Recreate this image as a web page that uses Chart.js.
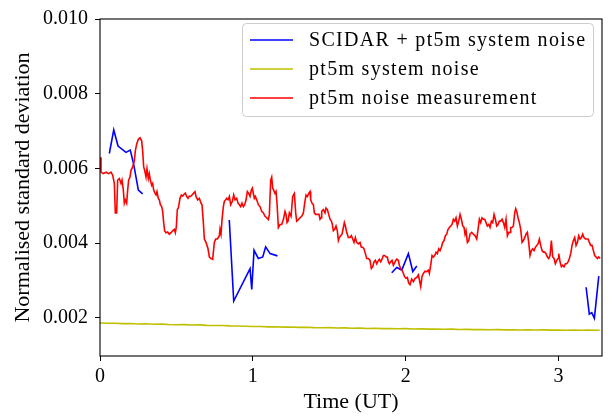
<!DOCTYPE html>
<html>
<head>
<meta charset="utf-8">
<script src="https://cdn.jsdelivr.net/npm/chart.js@4.4.0/dist/chart.umd.min.js"></script>
<style>
html, body { margin: 0; padding: 0; background: #fff; }
#wrap { width: 611px; height: 420px; }
</style>
</head>
<body>
<div id="wrap"><canvas id="noiseChart"></canvas></div>
<script>
// pt5m noise measurement (red)
const redTime = [
    0.0000,0.0065,0.0218,0.0392,0.0567,0.0720,0.0829,0.0938,0.1003,0.1091,
    0.1156,0.1265,0.1374,0.1440,0.1527,0.1592,0.1658,0.1745,0.1810,0.1876,
    0.1963,0.2029,0.2138,0.2247,0.2312,0.2399,0.2509,0.2618,0.2727,0.2792,
    0.2858,0.2923,0.3010,0.3076,0.3163,0.3228,0.3294,0.3381,0.3447,0.3512,
    0.3599,0.3665,0.3730,0.3817,0.3883,0.3948,0.4036,0.4101,0.4166,0.4232,
    0.4319,0.4428,0.4537,0.4647,0.4755,0.4864,0.4930,0.4995,0.5061,0.5126,
    0.5235,0.5323,0.5410,0.5497,0.5584,0.5672,0.5759,0.5846,0.5933,0.6021,
    0.6130,0.6217,0.6283,0.6392,0.6501,0.6610,0.6675,0.6763,0.6828,0.6937,
    0.6981,0.7069,0.7156,0.7265,0.7374,0.7418,0.7483,0.7570,0.7679,0.7745,
    0.7810,0.7854,0.7919,0.7985,0.8072,0.8137,0.8225,0.8290,0.8377,0.8465,
    0.8552,0.8661,0.8748,0.8836,0.8945,0.9032,0.9119,0.9206,0.9294,0.9381,
    0.9468,0.9556,0.9643,0.9730,0.9817,0.9905,0.9970,1.0035,1.0101,1.0166,
    1.0254,1.0363,1.0472,1.0581,1.0690,1.0799,1.0908,1.1017,1.1083,1.1170,
    1.1235,1.1301,1.1366,1.1453,1.1519,1.1584,1.1672,1.1781,1.1890,1.1999,
    1.2108,1.2173,1.2239,1.2304,1.2391,1.2501,1.2610,1.2719,1.2806,1.2871,
    1.2981,1.3090,1.3199,1.3308,1.3395,1.3482,1.3569,1.3657,1.3744,
    1.3787,1.3874,1.3962,1.4027,1.4114,1.4223,1.4332,1.4398,1.4463,1.4507,
    1.4616,1.4725,1.4791,1.4878,1.4965,1.5052,1.5140,1.5205,1.5270,1.5358,
    1.5445,1.5532,1.5598,1.5663,1.5750,1.5838,1.5925,1.5990,1.6056,1.6143,
    1.6252,1.6361,1.6448,1.6536,1.6623,1.6710,1.6798,1.6907,1.7016,1.7103,
    1.7190,1.7277,1.7365,1.7452,1.7561,1.7670,1.7757,1.7845,1.7932,1.8019,
    1.8106,1.8194,1.8281,1.8368,1.8456,1.8543,1.8630,1.8717,1.8805,1.8870,
    1.8935,1.9022,1.9110,1.9197,1.9306,1.9415,1.9524,1.9590,1.9677,1.9764,
    1.9852,1.9939,2.0026,2.0113,2.0201,2.0288,
    2.0397,2.0507,2.0616,2.0725,2.0834,2.0899,2.0987,2.1074,2.1161,2.1270,
    2.1379,2.1488,2.1554,2.1641,2.1728,2.1816,2.1903,2.1990,2.2077,2.2165,
    2.2252,2.2339,2.2426,2.2514,2.2601,2.2688,2.2775,2.2863,2.2950,2.3037,
    2.3124,2.3212,2.3299,2.3386,2.3474,2.3561,2.3648,2.3735,2.3823,2.3888,
    2.3953,2.4041,2.4128,2.4215,2.4324,2.4433,2.4542,2.4651,2.4739,2.4826,
    2.4913,2.5000,2.5088,2.5175,2.5262,2.5350,2.5437,2.5524,2.5611,2.5699,
    2.5786,2.5873,2.5960,2.6048,2.6135,2.6222,2.6310,2.6397,2.6484,2.6571,
    2.6659,2.6746,2.6833,
    2.6876,2.6963,2.7051,2.7138,2.7203,2.7269,2.7356,2.7443,2.7531,2.7618,
    2.7705,2.7792,2.7880,2.7967,2.8054,2.8141,2.8229,2.8316,2.8403,2.8490,
    2.8578,2.8665,2.8752,2.8839,2.8927,2.9014,2.9101,2.9188,2.9276,2.9363,
    2.9450,2.9537,2.9625,2.9712,2.9799,2.9887,2.9974,3.0017,3.0105,3.0192,
    3.0279,3.0366,3.0454,3.0541,3.0628,3.0715,3.0803,3.0890,3.0977,3.1065,
    3.1152,3.1239,3.1326,3.1414,3.1501,3.1588,3.1675,3.1763,3.1850,3.1937,
    3.2024,3.2112,3.2199,3.2286,3.2373,3.2461,3.2548,3.2635,3.2722
];
const redValue = [
    0.00630,0.00590,0.00586,0.00590,0.00586,0.00590,0.00582,0.00560,0.00481,0.00481,
    0.00569,0.00573,0.00560,0.00569,0.00542,0.00507,0.00516,0.00507,0.00542,0.00569,
    0.00577,0.00595,0.00604,0.00621,0.00647,0.00665,0.00678,0.00682,0.00674,0.00647,
    0.00604,0.00595,0.00577,0.00599,0.00573,0.00586,0.00569,0.00555,0.00560,0.00542,
    0.00534,0.00529,0.00538,0.00520,0.00516,0.00503,0.00498,0.00485,0.00455,0.00433,
    0.00428,0.00430,0.00424,0.00428,0.00433,0.00437,0.00428,0.00444,0.00490,0.00494,
    0.00520,0.00529,0.00526,0.00531,0.00534,0.00525,0.00520,0.00526,0.00525,0.00529,
    0.00534,0.00538,0.00525,0.00516,0.00520,0.00507,0.00503,0.00455,0.00411,0.00402,
    0.00402,0.00385,0.00363,0.00359,0.00357,0.00376,0.00402,0.00411,0.00411,0.00415,
    0.00420,0.00437,0.00424,0.00463,0.00498,0.00512,0.00516,0.00520,0.00516,0.00525,
    0.00503,0.00512,0.00529,0.00516,0.00520,0.00507,0.00503,0.00498,0.00507,0.00498,
    0.00503,0.00516,0.00538,0.00533,0.00525,0.00542,0.00547,0.00533,0.00520,0.00525,
    0.00516,0.00503,0.00498,0.00485,0.00481,0.00472,0.00468,0.00463,0.00477,0.00569,
    0.00577,0.00547,0.00542,0.00533,0.00538,0.00507,0.00442,0.00450,0.00450,0.00463,
    0.00485,0.00477,0.00455,0.00459,0.00481,0.00472,0.00525,0.00533,0.00481,0.00459,
    0.00463,0.00468,0.00472,0.00481,0.00507,0.00529,0.00525,0.00533,0.00538,
    0.00516,0.00507,0.00503,0.00481,0.00477,0.00477,0.00477,0.00464,0.00468,0.00485,
    0.00490,0.00481,0.00494,0.00490,0.00477,0.00464,0.00459,0.00450,0.00433,0.00437,
    0.00446,0.00433,0.00407,0.00415,0.00420,0.00424,0.00442,0.00455,0.00446,0.00429,
    0.00415,0.00415,0.00420,0.00411,0.00402,0.00415,0.00402,0.00398,0.00402,0.00389,
    0.00389,0.00385,0.00372,0.00359,0.00359,0.00354,0.00332,0.00337,0.00350,0.00354,
    0.00345,0.00352,0.00357,0.00350,0.00357,0.00367,0.00367,0.00363,0.00363,0.00350,
    0.00345,0.00350,0.00354,0.00341,0.00350,0.00357,0.00354,0.00341,0.00332,0.00328,
    0.00319,0.00310,0.00306,0.00308,0.00293,0.00289,
    0.00304,0.00297,0.00306,0.00308,0.00315,0.00302,0.00284,0.00311,0.00319,0.00325,
    0.00324,0.00328,0.00319,0.00341,0.00367,0.00363,0.00367,0.00376,0.00372,0.00385,
    0.00380,0.00389,0.00402,0.00407,0.00420,0.00424,0.00437,0.00442,0.00446,0.00450,
    0.00464,0.00459,0.00468,0.00446,0.00459,0.00477,0.00464,0.00446,0.00442,0.00424,
    0.00433,0.00402,0.00407,0.00424,0.00429,0.00424,0.00420,0.00411,0.00437,0.00464,
    0.00455,0.00468,0.00464,0.00464,0.00455,0.00446,0.00450,0.00442,0.00459,0.00455,
    0.00477,0.00464,0.00446,0.00450,0.00459,0.00459,0.00464,0.00455,0.00442,0.00464,
    0.00420,0.00429,0.00429,
    0.00442,0.00442,0.00446,0.00481,0.00492,0.00485,0.00468,0.00455,0.00437,0.00402,
    0.00407,0.00415,0.00424,0.00429,0.00402,0.00367,0.00380,0.00385,0.00380,0.00389,
    0.00394,0.00398,0.00411,0.00394,0.00380,0.00376,0.00376,0.00372,0.00363,0.00359,
    0.00367,0.00407,0.00363,0.00359,0.00345,0.00354,0.00359,0.00372,0.00350,0.00337,
    0.00341,0.00337,0.00345,0.00345,0.00350,0.00359,0.00372,0.00394,0.00407,0.00415,
    0.00394,0.00402,0.00420,0.00411,0.00415,0.00424,0.00415,0.00411,0.00411,0.00411,
    0.00402,0.00394,0.00394,0.00380,0.00367,0.00363,0.00359,0.00363,0.00359
];

// pt5m system noise (yellow)
const sysTime = [
    0.00,0.05,0.10,0.15,0.20,0.25,0.30,0.35,0.40,0.45,
    0.50,0.55,0.60,0.65,0.70,0.75,0.80,0.85,0.90,0.95,
    1.00,1.05,1.10,1.15,1.20,1.25,1.30,1.35,1.40,1.45,
    1.50,1.55,1.60,1.65,1.70,1.75,1.80,1.85,1.90,1.95,
    2.00,2.05,2.10,2.15,2.20,2.25,2.30,2.35,2.40,2.45,
    2.50,2.55,2.60,2.65,2.70,2.75,2.80,2.85,2.90,2.95,
    3.00,3.05,3.10,3.15,3.20,3.25,3.27
];
const sysValue = [
    0.001862,0.001855,0.001858,0.001846,0.001850,0.001838,0.001842,0.001830,0.001834,0.001822,
    0.001818,0.001821,0.001809,0.001812,0.001801,0.001795,0.001798,0.001786,0.001782,0.001778,
    0.001768,0.001771,0.001760,0.001763,0.001752,0.001755,0.001745,0.001749,0.001740,0.001736,
    0.001739,0.001729,0.001733,0.001724,0.001727,0.001718,0.001722,0.001714,0.001717,0.001708,
    0.001712,0.001704,0.001707,0.001699,0.001702,0.001694,0.001698,0.001690,0.001693,0.001686,
    0.001690,0.001683,0.001687,0.001680,0.001684,0.001677,0.001681,0.001675,0.001679,0.001673,
    0.001677,0.001671,0.001676,0.001669,0.001674,0.001671,0.001675
];

// SCIDAR + pt5m system noise (blue), null splits the runs
const blueTime = [
    0.061,0.090,0.118,0.170,0.198,0.220,0.251,0.279,
    0.560,
    0.846,0.875,0.982,0.993,1.008,1.036,1.065,1.084,1.113,1.161,
    1.500,
    1.909,1.942,1.975,2.018,2.047,2.073,
    2.600,
    3.181,3.202,3.218,3.235,3.264
];
const blueValue = [
    0.00640,0.00703,0.00660,0.00643,0.00649,0.00612,0.00542,0.00532,
    null,
    0.00462,0.00245,0.00332,0.00276,0.00381,0.00359,0.00363,0.00390,0.00372,0.00366,
    null,
    0.00321,0.00335,0.00328,0.00372,0.00324,0.00339,
    null,
    0.00282,0.00210,0.00214,0.00199,0.00312
];

const xTickValues = [0, 1, 2, 3];
const yTickValues = [0.002, 0.004, 0.006, 0.008, 0.010];

const toPoints = (xs, ys) => xs.map((x, i) => ({x: x, y: ys[i]}));

const serif = '"Liberation Serif", "Times New Roman", serif';
Chart.defaults.font.family = serif;
Chart.defaults.font.size = 20;
Chart.defaults.color = '#000';

const framePlugin = {
    id: 'frame',
    afterDatasetsDraw(chart) {
        const {ctx, chartArea: a} = chart;
        ctx.save();
        ctx.strokeStyle = '#000';
        ctx.lineWidth = 1.1;
        ctx.strokeRect(a.left, a.top, a.right - a.left, a.bottom - a.top);
        ctx.restore();
    }
};

const legendPlugin = {
    id: 'boxLegend',
    afterDraw(chart) {
        const ctx = chart.ctx;
        const items = chart.data.datasets.slice().reverse();
        const x0 = 242.5, y0 = 23.5, w = 351, h = 93, r = 4;
        ctx.save();
        ctx.beginPath();
        ctx.roundRect(x0, y0, w, h, r);
        ctx.fillStyle = 'rgba(255,255,255,0.8)';
        ctx.fill();
        ctx.strokeStyle = '#cccccc';
        ctx.lineWidth = 1;
        ctx.stroke();
        ctx.font = '20px ' + serif;
        ctx.letterSpacing = '1.3px';
        ctx.textBaseline = 'middle';
        ctx.fillStyle = '#000';
        items.forEach((ds, i) => {
            const y = 40 + i * 29;
            ctx.beginPath();
            ctx.moveTo(250, y);
            ctx.lineTo(293, y);
            ctx.strokeStyle = ds.borderColor;
            ctx.lineWidth = 1.6;
            ctx.stroke();
            ctx.fillText(ds.label, 309, y + 1);
        });
        ctx.restore();
    }
};

const lineStyle = {pointRadius: 0, borderWidth: 1.6, fill: false, tension: 0, spanGaps: false};

new Chart(document.getElementById('noiseChart'), {
    type: 'line',
    data: {
        datasets: [
            {label: 'pt5m noise measurement', data: toPoints(redTime, redValue), borderColor: '#ff0000', ...lineStyle},
            {label: 'pt5m system noise', data: toPoints(sysTime, sysValue), borderColor: '#bfbf00', ...lineStyle},
            {label: 'SCIDAR + pt5m system noise', data: toPoints(blueTime, blueValue), borderColor: '#0000ff', ...lineStyle}
        ]
    },
    options: {
        responsive: true,
        maintainAspectRatio: false,
        animation: false,
        devicePixelRatio: 1,
        layout: {padding: {top: 12, right: 9, bottom: 0, left: 0}},
        plugins: {legend: {display: false}, tooltip: {enabled: false}},
        scales: {
            x: {
                type: 'linear',
                min: 0,
                max: 3.285,
                afterFit: s => { s.height = 64; },
                afterBuildTicks: s => { s.ticks = xTickValues.map(v => ({value: v})); },
                ticks: {padding: 4, maxRotation: 0, callback: v => String(v)},
                grid: {drawOnChartArea: false, tickLength: 5, tickColor: '#000', tickWidth: 1},
                border: {display: false},
                title: {display: true, text: 'Time (UT)', font: {size: 22}, padding: {top: 0, bottom: 5}}
            },
            y: {
                min: 0.00098,
                max: 0.010,
                afterFit: s => { s.width = 100; },
                afterBuildTicks: s => { s.ticks = yTickValues.map(v => ({value: v})); },
                ticks: {padding: 7, callback: v => v.toFixed(3)},
                grid: {drawOnChartArea: false, tickLength: 5, tickColor: '#000', tickWidth: 1},
                border: {display: false},
                title: {display: true, text: 'Normalised standard deviation', font: {size: 22}, padding: {top: 10, bottom: 0}}
            }
        }
    },
    plugins: [framePlugin, legendPlugin]
});
</script>
</body>
</html>
